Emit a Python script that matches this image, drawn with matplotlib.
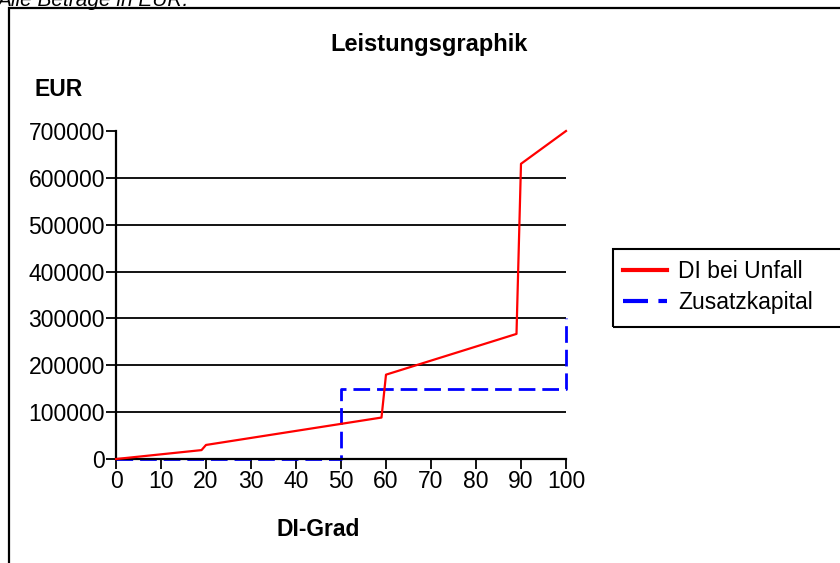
import matplotlib.pyplot as plt
from matplotlib.patches import Rectangle

plt.rcParams['font.family'] = ['Liberation Sans', 'DejaVu Sans']

# DI-Grad (%) und Leistung in EUR
di_grad = [0, 19, 20, 59, 60, 89, 90, 100]
di_unfall = [0, 19000, 30000, 88500, 180000, 267000, 630000, 700000]

zk_grad = [0, 50, 50, 100, 100]
zusatzkapital = [0, 0, 150000, 150000, 300000]

x_ticks = list(range(0, 101, 10))
y_ticks = list(range(0, 700001, 100000))
grid_levels = y_ticks[1:-1]

fig = plt.figure(figsize=(8.4, 5.63), dpi=100)
ax = fig.add_axes([0.1381, 0.1847, 0.5357, 0.5826])

# Rahmen um die Grafik
fig.patches.append(Rectangle((9 / 840, -0.1), 2.0, 1 - 8 / 563 + 0.1,
                             transform=fig.transFigure, fill=False,
                             edgecolor='black', linewidth=1.6, clip_on=False))

fig.text(-0.003, 1 - 6 / 563, "Alle Beträge in EUR.", fontsize=15,
         style='italic', ha='left', va='baseline')

for lv in grid_levels:
    ax.axhline(lv, color='black', linewidth=1.3, zorder=1)

ax.plot(di_grad, di_unfall, color='red', linewidth=1.6, label='DI bei Unfall',
        zorder=3, clip_on=False)
ax.plot(zk_grad, zusatzkapital, color='blue', linewidth=2.0, linestyle=(0, (6, 2.5)),
        label='Zusatzkapital', zorder=2, clip_on=False)

ax.set_xlim(0, 100)
ax.set_ylim(0, 700000)
ax.set_xticks(x_ticks)
ax.set_yticks(y_ticks)
ax.set_yticklabels([str(v) for v in y_ticks])
ax.tick_params(direction='out', length=7.5, width=1.3, labelsize=16.5, pad=0.5, color='black')
for s in ['top', 'right']:
    ax.spines[s].set_visible(False)
for s in ['left', 'bottom']:
    ax.spines[s].set_linewidth(1.6)
ax.patch.set_visible(False)

fig.text(429 / 840, 1 - 45 / 563, "Leistungsgraphik", fontsize=17, fontweight='bold',
         ha='center', va='center')
fig.text(34 / 840, 1 - 90 / 563, "EUR", fontsize=16.5, fontweight='bold',
         ha='left', va='center')
fig.text(318 / 840, 1 - 530 / 563, "DI-Grad", fontsize=16.5, fontweight='bold',
         ha='center', va='center')

leg = fig.legend(loc='upper left', bbox_to_anchor=(614 / 840, 1 - 251 / 563),
                 fontsize=16.5, frameon=False, handlelength=1.9,
                 handletextpad=0.5, borderpad=0.4, labelspacing=0.35,
                 borderaxespad=0)
for line in leg.get_lines():
    line.set_linewidth(3)

# Legendenrahmen läuft über den rechten Rand hinaus
fig.patches.append(Rectangle((613 / 840, 1 - 327 / 563), 0.5, 78 / 563,
                             transform=fig.transFigure, fill=False,
                             edgecolor='black', linewidth=1.5, clip_on=False))

fig.savefig('out.png', dpi=100)
